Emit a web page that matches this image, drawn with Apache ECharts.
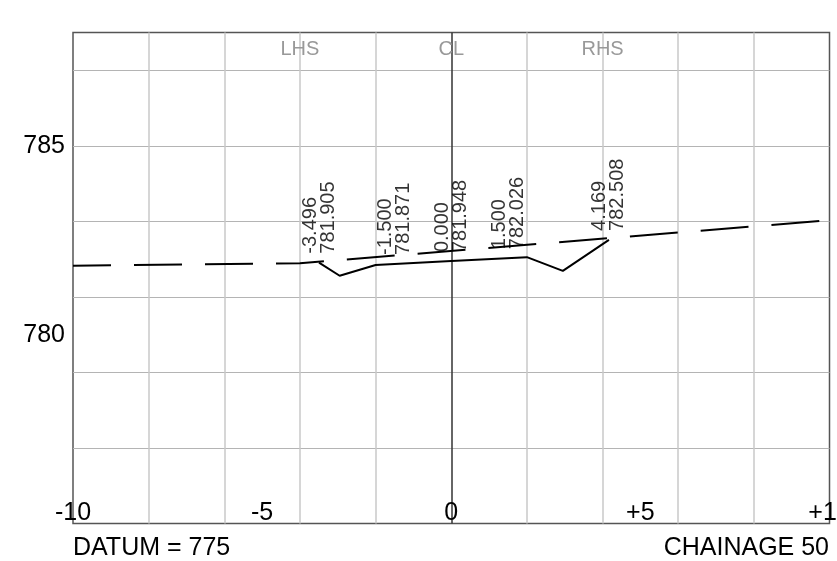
<!DOCTYPE html>
<html><head><meta charset="utf-8">
<script src="https://cdn.jsdelivr.net/npm/echarts@6/dist/echarts.min.js"></script>
<style>html,body{margin:0;padding:0;background:#fff}#c{width:837px;height:561px}</style>
</head><body><div id="c"></div>
<script>
// ---- data ----
const xMin = -10, xMax = 10, yMin = 775, yMax = 788;
const xTickLabels = [-10, -5, 0, 5, 10];
const yTickLabels = [780, 785];
const sideNames = ['LHS', 'CL', 'RHS'];
const sideOffsets = [-4, 0, 4];
const groundX = [-10, -4, 10];
const groundY = [781.825, 781.89, 783.03];
const designX = [-3.496, -2.95, -2.0, 0, 2.0, 2.95, 4.169];
const designY = [781.905, 781.56, 781.845, 781.948, 782.052, 781.69, 782.508];
const pointOffsets = [-3.496, -1.5, 0, 1.5, 4.169];
const pointLevels = [781.905, 781.871, 781.948, 782.026, 782.508];
const datumText = 'DATUM = 775';
const chainageText = 'CHAINAGE 50';

// ---- build ----
const FONT = "'Liberation Sans', Arial, sans-serif";
const xs = []; for (let v = xMin; v <= xMax; v++) xs.push(v);
const ys = []; for (let v = yMin; v <= yMax; v++) ys.push(v);
const vColors = xs.map(v => v === 0 ? '#333333' : (v % 2 === 0 && v !== xMin && v !== xMax ? '#c8c8c8' : 'rgba(0,0,0,0)'));
const hColors = ys.map(v => ((v - yMin) % 2 === 0 && v !== yMin && v !== yMax) ? '#b4b4b4' : 'rgba(0,0,0,0)');

const chart = echarts.init(document.getElementById('c'), null, {renderer: 'canvas'});
chart.setOption({
  animation: false,
  backgroundColor: '#fff',
  textStyle: {fontFamily: FONT},
  title: [
    {text: datumText, left: 68, top: 531, padding: 5, textStyle: {fontFamily: FONT, fontSize: 25, fontWeight: 'normal', color: '#000'}},
    {text: chainageText, right: 3, top: 531, padding: 5, textStyle: {fontFamily: FONT, fontSize: 25, fontWeight: 'normal', color: '#000'}}
  ],
  grid: {left: 73, right: 7.5, top: 32.5, bottom: 37.5, show: true, borderColor: '#555', borderWidth: 1.5, containLabel: false, outerBoundsMode: 'none'},
  xAxis: [
    {type: 'value', min: xMin, max: xMax, interval: 1, position: 'bottom',
     axisLine: {show: false}, axisTick: {show: false},
     splitLine: {show: true, lineStyle: {color: vColors, width: 1.5}},
     axisLabel: {show: true, inside: true, margin: -2, fontSize: 25, color: '#000', fontFamily: FONT,
       formatter: v => xTickLabels.indexOf(v) >= 0 ? (v > 0 ? '+' + v : String(v)) : ''}},
    {type: 'value', min: xMin, max: xMax, interval: 1, position: 'top',
     axisLine: {show: false}, axisTick: {show: false}, splitLine: {show: false},
     axisLabel: {show: true, inside: true, margin: 7, fontSize: 20, color: '#999', fontFamily: FONT,
       formatter: v => { const i = sideOffsets.indexOf(v); return i >= 0 ? sideNames[i] : ''; }}}
  ],
  yAxis: [
    {type: 'value', min: yMin, max: yMax, interval: 1,
     axisLine: {show: false}, axisTick: {show: false},
     splitLine: {show: true, lineStyle: {color: hColors, width: 1}},
     axisLabel: {show: true, margin: 8, fontSize: 25, color: '#000', fontFamily: FONT,
       formatter: v => yTickLabels.indexOf(v) >= 0 ? String(v) : ''}}
  ],
  series: [
    {type: 'line', name: 'ground', xAxisIndex: 0, yAxisIndex: 0, symbol: 'none',
     data: groundX.map((x, i) => [x, groundY[i]]),
     lineStyle: {color: '#000', width: 2, type: [48, 23], dashOffset: 10}},
    {type: 'line', name: 'design', xAxisIndex: 0, yAxisIndex: 0, symbol: 'none',
     data: designX.map((x, i) => [x, designY[i]]),
     lineStyle: {color: '#000', width: 2}},
    {type: 'scatter', name: 'levels', xAxisIndex: 0, yAxisIndex: 0, symbolSize: 0.01,
     data: pointOffsets.map((x, i) => [x, pointLevels[i]]),
     label: {show: true, position: 'top', distance: 9, rotate: 90, align: 'left', verticalAlign: 'middle',
       fontSize: 20, lineHeight: 18, color: '#000', fontFamily: FONT,
       formatter: p => p.value[0].toFixed(3) + '\n' + p.value[1].toFixed(3)}}
  ]
});
</script></body></html>
